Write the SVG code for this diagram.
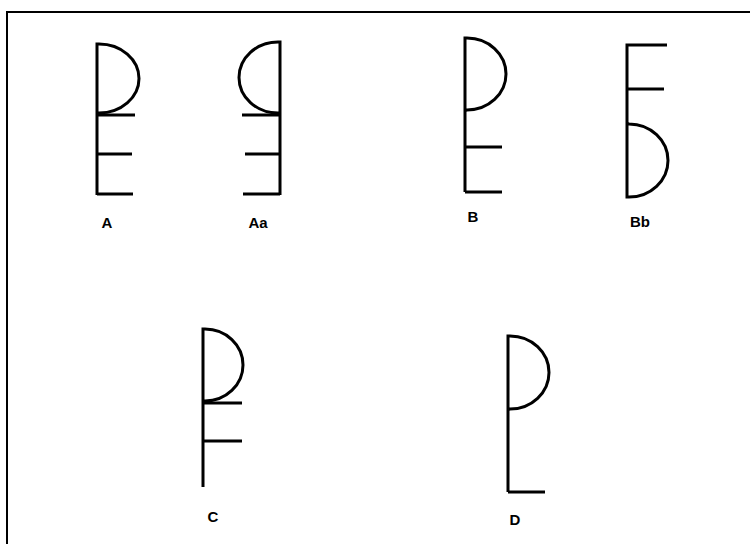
<svg xmlns="http://www.w3.org/2000/svg" width="750" height="544" viewBox="0 0 750 544">
<style>
.s{fill:none;stroke:#000;stroke-width:3;stroke-linecap:butt}
.t{font-family:"Liberation Sans",Arial,sans-serif;font-weight:bold;font-size:15px;fill:#000;text-anchor:middle}
</style>
<rect width="750" height="544" fill="#fff"/>
<path d="M7,544 V12 H750" fill="none" stroke="#000" stroke-width="2"/>
<g id="A">
<path class="s" d="M97,195 V44 H99 A40,34.5 0 0 1 99,113 L97,114"/>
<path class="s" d="M97,115 H135 M97,154 H132 M97,194 H133"/>
<text class="t" x="107" y="228">A</text>
</g>
<g id="Aa">
<path class="s" d="M280,195 V42 H278 A39,35.5 0 0 0 278,113 L280,114"/>
<path class="s" d="M242,115 H280 M245,154 H280 M243,194 H280"/>
<text class="t" x="258" y="228">Aa</text>
</g>
<g id="B">
<path class="s" d="M465,192 V38 H467 A39,36 0 0 1 467,110 L465,111"/>
<path class="s" d="M465,147 H502 M465,192 H502"/>
<text class="t" x="473" y="222">B</text>
</g>
<g id="Bb">
<path class="s" d="M667,45 H627 V197 H629 A39,36.5 0 0 0 629,124 L627,123"/>
<path class="s" d="M627,89 H664"/>
<text class="t" x="640" y="227">Bb</text>
</g>
<g id="C">
<path class="s" d="M203,487 V329 H205 A38,36 0 0 1 205,401 L203,402"/>
<path class="s" d="M203,403 H242 M203,441 H242"/>
<text class="t" x="213" y="522">C</text>
</g>
<g id="D">
<path class="s" d="M508,492 V336 H510 A39,36.5 0 0 1 510,409 L508,410"/>
<path class="s" d="M508,492 H545"/>
<text class="t" x="515" y="525">D</text>
</g>
</svg>
